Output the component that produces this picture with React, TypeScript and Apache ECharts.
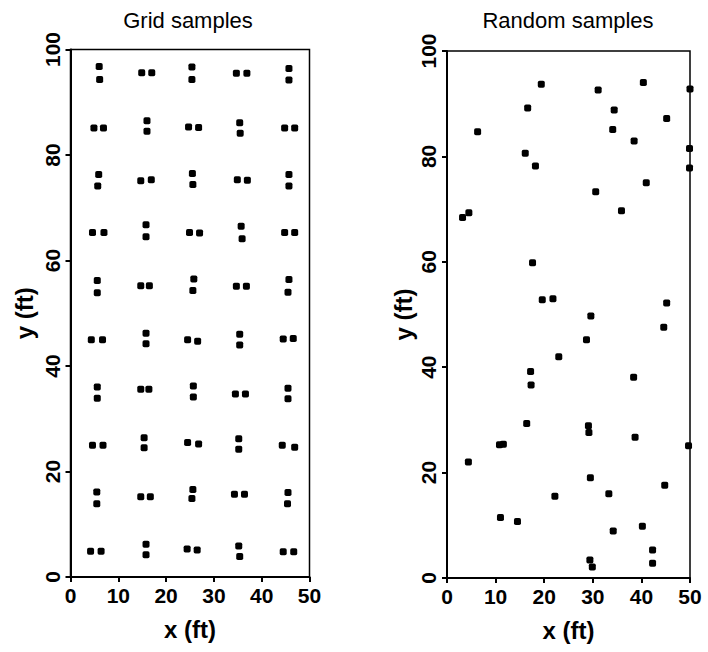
import React, { useEffect, useRef } from 'react';
import * as echarts from 'echarts';

const titles = ['Grid samples', 'Random samples'];
const xAxisName = 'x (ft)';
const yAxisName = 'y (ft)';
const xRange = [0, 50];
const yRange = [0, 100];
const xStep = 10;
const yStep = 20;

// Systematic (grid) sample locations, [x, y] in ft
const gridSamples: number[][] = [
  [6.0, 96.8], [6.1, 94.3], [14.9, 95.6], [17.0, 95.6], [25.4, 96.7], [25.4, 94.3], [34.7, 95.5], [36.9, 95.5], [45.7, 96.4], [45.7, 94.2],
  [4.9, 85.1], [6.9, 85.1], [16.0, 86.5], [16.0, 84.5], [24.7, 85.3], [26.8, 85.2], [35.4, 86.1], [35.5, 84.1], [44.8, 85.1], [46.9, 85.1],
  [5.9, 76.3], [5.7, 74.1], [14.7, 75.1], [16.9, 75.3], [25.5, 76.5], [25.6, 74.4], [34.9, 75.3], [37.0, 75.2], [45.7, 76.3], [45.7, 74.1],
  [4.6, 65.3], [7.0, 65.3], [15.8, 66.8], [15.8, 64.5], [24.9, 65.3], [27.0, 65.2], [35.7, 66.5], [35.9, 64.1], [44.8, 65.3], [46.9, 65.3],
  [5.6, 56.2], [5.6, 53.9], [14.7, 55.2], [16.5, 55.2], [25.8, 56.5], [25.6, 54.3], [34.7, 55.1], [36.8, 55.1], [45.7, 56.4], [45.5, 54.0],
  [4.35, 45.0], [6.7, 45.0], [15.8, 46.2], [15.8, 44.2], [24.5, 45.0], [26.6, 44.7], [35.4, 46.0], [35.4, 44.0], [44.5, 45.1], [46.6, 45.2],
  [5.6, 36.0], [5.6, 33.9], [14.7, 35.6], [16.4, 35.6], [25.7, 36.2], [25.7, 34.1], [34.5, 34.7], [36.6, 34.7], [45.5, 35.8], [45.5, 33.8],
  [4.6, 25.0], [6.8, 25.0], [15.4, 26.4], [15.4, 24.5], [24.5, 25.5], [26.8, 25.2], [35.2, 26.2], [35.2, 24.2], [44.3, 25.0], [46.9, 24.6],
  [5.5, 16.1], [5.5, 13.9], [14.7, 15.2], [16.7, 15.2], [25.6, 16.6], [25.4, 14.9], [34.3, 15.7], [36.4, 15.7], [45.5, 16.0], [45.4, 13.9],
  [4.2, 4.9], [6.4, 4.9], [15.8, 6.2], [15.8, 4.2], [24.4, 5.3], [26.5, 5.1], [35.2, 5.9], [35.4, 3.9], [44.5, 4.8], [46.7, 4.8],
];

// Random sample locations, [x, y] in ft
const randomSamples: number[][] = [
  [19.4, 93.7], [40.4, 94.0], [31.1, 92.6], [50.0, 92.8], [16.6, 89.2], [34.4, 88.8], [45.2, 87.2], [6.3, 84.7],
  [34.1, 85.1], [38.5, 82.9], [49.9, 81.5], [16.1, 80.6], [18.2, 78.2], [49.9, 77.8], [41.0, 75.0], [30.6, 73.3],
  [35.9, 69.7], [4.5, 69.3], [3.2, 68.4], [17.6, 59.8], [19.6, 52.8], [21.8, 53.0], [45.2, 52.2], [29.6, 49.7],
  [44.6, 47.6], [28.7, 45.2], [23.0, 42.0], [17.2, 39.2], [38.4, 38.1], [17.3, 36.6], [16.4, 29.3], [29.1, 28.9],
  [29.2, 27.6], [38.7, 26.7], [10.8, 25.3], [11.6, 25.4], [49.7, 25.1], [4.4, 22.0], [29.5, 19.0], [44.8, 17.6],
  [33.3, 16.0], [22.2, 15.5], [11.0, 11.5], [14.5, 10.7], [40.2, 9.8], [34.2, 8.9], [42.3, 5.3], [29.4, 3.4],
  [29.9, 2.1], [42.3, 2.8],
];

const FONT = '"Liberation Sans", Arial, Helvetica, sans-serif';

export default function App() {
  const ref = useRef<HTMLDivElement>(null);

  useEffect(() => {
    if (!ref.current) return;
    const chart = echarts.init(ref.current, null, { renderer: 'svg' });

    const grids = [
      { left: 70.5, top: 49.5, width: 239, height: 527.5 },
      { left: 447, top: 51, width: 243, height: 527 },
    ];

    const mkX = (i: number) => ({
      type: 'value',
      gridIndex: i,
      min: xRange[0],
      max: xRange[1],
      interval: xStep,
      name: xAxisName,
      nameLocation: 'middle',
      nameGap: 40,
      nameTextStyle: { color: '#000', fontSize: 24, fontWeight: 'bold', fontFamily: FONT },
      axisLine: { show: true, onZero: false, lineStyle: { color: '#000', width: 2 } },
      axisTick: { show: true, length: 5, lineStyle: { color: '#000', width: 2 } },
      axisLabel: { color: '#000', fontSize: 21, fontWeight: 'bold', fontFamily: FONT, margin: 8 },
      splitLine: { show: false },
    });

    const mkY = (i: number, gap: number) => ({
      type: 'value',
      gridIndex: i,
      min: yRange[0],
      max: yRange[1],
      interval: yStep,
      name: yAxisName,
      nameLocation: 'middle',
      nameGap: gap,
      nameTextStyle: { color: '#000', fontSize: 24, fontWeight: 'bold', fontFamily: FONT },
      axisLine: { show: true, onZero: false, lineStyle: { color: '#000', width: 2 } },
      axisTick: { show: true, length: 5, lineStyle: { color: '#000', width: 2 } },
      axisLabel: { color: '#000', fontSize: 21, fontWeight: 'bold', fontFamily: FONT, margin: 8, rotate: 90 },
      splitLine: { show: false },
    });

    const option: any = {
      animation: false,
      backgroundColor: '#fff',
      grid: grids.map((g) => ({ ...g, show: true, borderColor: '#000', borderWidth: 1.5, backgroundColor: 'transparent' })),
      xAxis: [mkX(0), mkX(1)],
      yAxis: [mkY(0, 34), mkY(1, 32)],
      graphic: [
        {
          type: 'text', x: 188, y: 20,
          style: { text: titles[0], align: 'center', verticalAlign: 'middle', fill: '#000', font: `22px ${FONT}` },
        },
        {
          type: 'text', x: 568, y: 20,
          style: { text: titles[1], align: 'center', verticalAlign: 'middle', fill: '#000', font: `22px ${FONT}` },
        },
      ],
      series: [
        {
          type: 'scatter', xAxisIndex: 0, yAxisIndex: 0, data: gridSamples,
          symbol: 'roundRect', symbolSize: 7, itemStyle: { color: '#000', opacity: 1 },
        },
        {
          type: 'scatter', xAxisIndex: 1, yAxisIndex: 1, data: randomSamples,
          symbol: 'roundRect', symbolSize: 7, itemStyle: { color: '#000', opacity: 1 },
        },
      ],
    };

    chart.setOption(option);
    return () => chart.dispose();
  }, []);

  return <div ref={ref} style={{ position: 'fixed', left: 0, top: 0, width: 708, height: 652 }} />;
}
